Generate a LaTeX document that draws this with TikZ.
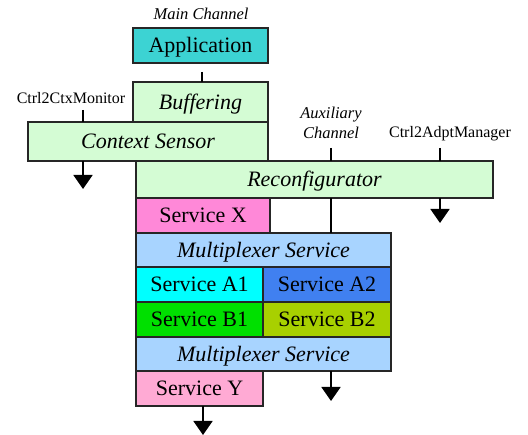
\documentclass[tikz,border=0pt]{standalone}
\usepackage{fontspec}
\setmainfont{Liberation Serif}
\usetikzlibrary{arrows.meta}
\definecolor{appc}{RGB}{60,211,211}
\definecolor{paleg}{RGB}{212,252,212}
\definecolor{pinkx}{RGB}{255,136,216}
\definecolor{pinky}{RGB}{255,170,212}
\definecolor{muxc}{RGB}{168,212,255}
\definecolor{cyanc}{RGB}{0,255,255}
\definecolor{bluec}{RGB}{64,128,240}
\definecolor{greenc}{RGB}{0,224,0}
\definecolor{olivec}{RGB}{168,208,0}
\tikzset{
  layer/.style={draw=black!85, line width=1.2pt, anchor=north west,
    inner sep=0pt, outer sep=0pt, text height=15.5pt, text depth=0.5pt,
    font=\fontsize{22}{26}\selectfont},
  layerit/.style={layer, font=\fontsize{22}{26}\selectfont\itshape},
  tag/.style={inner sep=0pt, outer sep=0pt, font=\fontsize{16}{19}\selectfont},
  tagit/.style={tag, align=center, font=\fontsize{16.5}{20}\selectfont\itshape},
  wire/.style={line width=1.8pt, black},
  outarrow/.style={wire, -{Triangle[width=19pt,length=14pt]}}
}
\begin{document}
\begin{tikzpicture}[x=1pt, y=-1pt]
\useasboundingbox (0,0) rectangle (528,435);

% application and protocol stack
\node[layer, fill=appc, minimum width=135pt, minimum height=35pt] (app) at (133,28) {Application};
\node[tagit] (mainlbl) at (201,14) {Main Channel};
\node[layerit, fill=paleg, minimum width=135pt, minimum height=40pt] (buf) at (133,82) {Buffering};
\node[layerit, fill=paleg, minimum width=240pt, minimum height=39pt] (cs) at (28,122) {Context Sensor};
\node[layerit, fill=paleg, minimum width=357pt, minimum height=37pt] (rec) at (136,161) {Reconfigurator};
\node[layer, fill=pinkx, minimum width=134pt, minimum height=35pt] (sx) at (136,198) {Service X};
\node[layerit, fill=muxc, minimum width=255pt, minimum height=34pt] (mux1) at (136,233) {Multiplexer Service};
\node[layer, fill=cyanc, minimum width=127pt, minimum height=35pt] (a1) at (136,267) {Service A1};
\node[layer, fill=bluec, minimum width=128pt, minimum height=35pt] (a2) at (263,267) {Service A2};
\node[layer, fill=greenc, minimum width=127pt, minimum height=35pt] (b1) at (136,302) {Service B1};
\node[layer, fill=olivec, minimum width=128pt, minimum height=35pt] (b2) at (263,302) {Service B2};
\node[layerit, fill=muxc, minimum width=255pt, minimum height=34pt] (mux2) at (136,337) {Multiplexer Service};
\node[layer, fill=pinky, minimum width=127pt, minimum height=35pt] (sy) at (136,371) {Service Y};

% side labels
\node[tag] (ctxlbl) at (71,98) {Ctrl2CtxMonitor};
\node[tagit] (auxlbl) at (331,123) {Auxiliary\\Channel};
\node[tag] (adptlbl) at (450,134) {Ctrl2AdptManager};

% connector end points
\coordinate (appstub) at (202,72);
\coordinate (ctxin) at (83,110);
\coordinate (auxin) at (331,148);
\coordinate (adptin) at (440,148);
\coordinate (ctxout) at (83,189);
\coordinate (adptout) at (440,223);
\coordinate (auxout) at (331,401);
\coordinate (yout) at (203,435);

% stubs
\draw[wire] (appstub) -- (appstub |- buf.north);
\draw[wire] (ctxin) -- (ctxin |- cs.north);
\draw[wire] (auxin) -- (auxin |- rec.north);
\draw[wire] (adptin) -- (adptin |- rec.north);
\draw[wire] (auxin |- rec.south) -- (auxin |- mux1.north);

% outputs
\draw[outarrow] (ctxout |- cs.south) -- (ctxout);
\draw[outarrow] (adptout |- rec.south) -- (adptout);
\draw[outarrow] (auxout |- mux2.south) -- (auxout);
\draw[outarrow] (yout |- sy.south) -- (yout);
\end{tikzpicture}
\end{document}
